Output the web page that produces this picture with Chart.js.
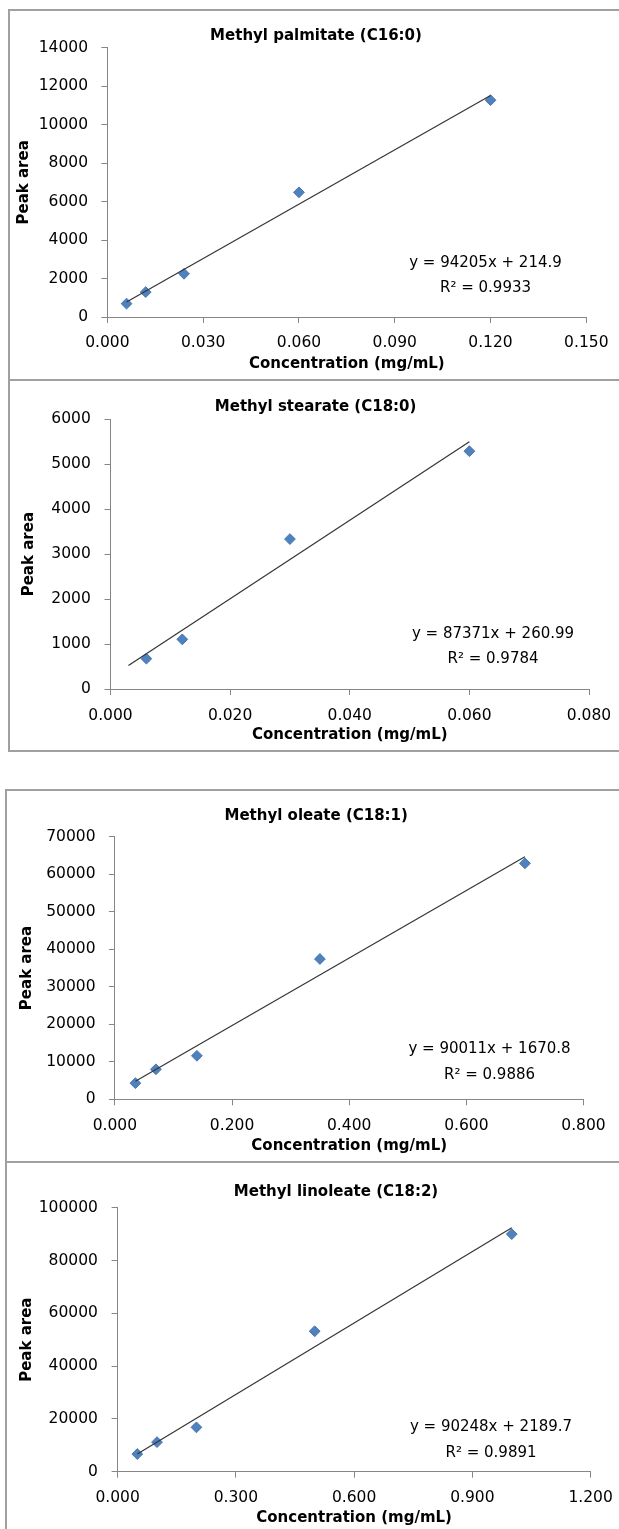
<!DOCTYPE html>
<html>
<head>
<meta charset="utf-8">
<title>FAME calibration curves</title>
<script src="https://cdn.jsdelivr.net/npm/chart.js@4.4.1/dist/chart.umd.min.js"></script>
<style>
  html, body { margin: 0; padding: 0; background: #fff; overflow: hidden; }
  body { width: 619px; height: 1529px; position: relative; }
  .panel { position: absolute; background: #fff; border-top: 2px solid #a0a0a0; border-left: 2px solid #a0a0a0; }
  .panel.closed { border-bottom: 2px solid #a0a0a0; }
  .panel canvas { display: block; }
</style>
</head>
<body>
<script>
// ---- Methyl palmitate (C16:0) ----
const palmitateConc = [0.006, 0.012, 0.024, 0.060, 0.120];
const palmitateArea = [695, 1295, 2245, 6480, 11270];
const palmitateFit = [94205, 214.9];          // slope, intercept
const palmitateR2 = [0.9933];
const palmitateFitSpan = [0.006, 0.120];
const palmitateXTicks = ['0.000', '0.030', '0.060', '0.090', '0.120', '0.150'];
const palmitateYTicks = ['0', '2000', '4000', '6000', '8000', '10000', '12000', '14000'];

// ---- Methyl stearate (C18:0) ----
const stearateConc = [0.006, 0.012, 0.030, 0.060];
const stearateArea = [675, 1105, 3335, 5290];
const stearateFit = [87371, 260.99];
const stearateR2 = [0.9784];
const stearateFitSpan = [0.003, 0.060];
const stearateXTicks = ['0.000', '0.020', '0.040', '0.060', '0.080'];
const stearateYTicks = ['0', '1000', '2000', '3000', '4000', '5000', '6000'];

// ---- Methyl oleate (C18:1) ----
const oleateConc = [0.035, 0.070, 0.140, 0.350, 0.700];
const oleateArea = [4300, 8000, 11600, 37400, 62900];
const oleateFit = [90011, 1670.8];
const oleateR2 = [0.9886];
const oleateFitSpan = [0.035, 0.700];
const oleateXTicks = ['0.000', '0.200', '0.400', '0.600', '0.800'];
const oleateYTicks = ['0', '10000', '20000', '30000', '40000', '50000', '60000', '70000'];

// ---- Methyl linoleate (C18:2) ----
const linoleateConc = [0.05, 0.10, 0.20, 0.50, 1.00];
const linoleateArea = [6700, 11200, 16800, 53200, 90000];
const linoleateFit = [90248, 2189.7];
const linoleateR2 = [0.9891];
const linoleateFitSpan = [0.05, 1.00];
const linoleateXTicks = ['0.000', '0.300', '0.600', '0.900', '1.200'];
const linoleateYTicks = ['0', '20000', '40000', '60000', '80000', '100000'];

const X_TITLE = 'Concentration (mg/mL)';
const Y_TITLE = 'Peak area';

// ---- look ----
const FONT = 'DejaVu Sans';
const TICK_SIZE = 15.5;
const TITLE_SIZE = 15;
const AXIS_TITLE_SIZE = 15;
const EQ_SIZE = 15;
const LINE_H = 1.2;
const TICK_LEN = 6;
const AXIS_GREY = '#868686';
const MARKER_BLUE = '#4f81bd';
const MARKER_EDGE = '#4677b2';
const FIT_LINE = '#353535';

// Page geometry of each panel (pixels on the page).
// plot = [left, top, right, bottom] of the plotting area.
const frames = [
  { left: 8, top: 9, h: 368, closed: false, plot: [107.4, 47.7, 586.3, 317],
    title: [316, 36], yTitleX: 24.6, yTickRight: 88, xTickY: 343, xTitleY: 364.3, eq: [485.5, 263.3, 288.3] },
  { left: 8, top: 379, h: 369, closed: true, plot: [110.5, 419.3, 589, 689],
    title: [315.6, 407.3], yTitleX: 29.6, yTickRight: 90.8, xTickY: 715.7, xTitleY: 735, eq: [493, 634, 659.3] },
  { left: 5, top: 789, h: 370, closed: false, plot: [114.9, 836.7, 583.5, 1099.3],
    title: [316.2, 816], yTitleX: 27.6, yTickRight: 95.5, xTickY: 1126, xTitleY: 1145.7, eq: [489.5, 1049.3, 1075] },
  { left: 5, top: 1161, h: 366, closed: false, plot: [117.6, 1207.7, 590.6, 1471.7],
    title: [336, 1192.3], yTitleX: 27.6, yTickRight: 97.9, xTickY: 1498.3, xTitleY: 1518.3, eq: [491, 1427.3, 1453.3] }
];

const panels = [
  { name: 'Methyl palmitate (C16:0)', conc: palmitateConc, area: palmitateArea, fit: palmitateFit, r2: palmitateR2,
    span: palmitateFitSpan, xTicks: palmitateXTicks, yTicks: palmitateYTicks },
  { name: 'Methyl stearate (C18:0)', conc: stearateConc, area: stearateArea, fit: stearateFit, r2: stearateR2,
    span: stearateFitSpan, xTicks: stearateXTicks, yTicks: stearateYTicks },
  { name: 'Methyl oleate (C18:1)', conc: oleateConc, area: oleateArea, fit: oleateFit, r2: oleateR2,
    span: oleateFitSpan, xTicks: oleateXTicks, yTicks: oleateYTicks },
  { name: 'Methyl linoleate (C18:2)', conc: linoleateConc, area: linoleateArea, fit: linoleateFit, r2: linoleateR2,
    span: linoleateFitSpan, xTicks: linoleateXTicks, yTicks: linoleateYTicks }
];

// Panel heading plus the regression equation and R² inside the plot.
const panelText = {
  id: 'panelText',
  afterDatasetsDraw(chart, args, opts) {
    const ctx = chart.ctx;
    ctx.save();
    ctx.fillStyle = '#000';
    ctx.textAlign = 'center';
    ctx.textBaseline = 'middle';
    ctx.font = 'bold ' + TITLE_SIZE + 'px "' + FONT + '"';
    ctx.fillText(opts.heading, opts.headX, opts.headY);
    ctx.font = EQ_SIZE + 'px "' + FONT + '"';
    opts.lines.forEach((t, i) => ctx.fillText(t, opts.x, opts.y[i]));
    ctx.restore();
  }
};

Chart.defaults.font.family = FONT;
Chart.defaults.color = '#000';

panels.forEach((p, i) => {
  const f = frames[i];
  const ox = f.left + 2, oy = f.top + 2;
  const W = 630 - ox, H = f.h;

  const wrap = document.createElement('div');
  wrap.className = 'panel' + (f.closed ? ' closed' : '');
  wrap.style.left = f.left + 'px';
  wrap.style.top = f.top + 'px';
  wrap.style.width = W + 'px';
  wrap.style.height = H + 'px';
  const cv = document.createElement('canvas');
  cv.width = W;
  cv.height = H;
  cv.style.width = W + 'px';
  cv.style.height = H + 'px';
  wrap.appendChild(cv);
  document.body.appendChild(wrap);

  // plot rectangle and text anchors in canvas pixels
  const pl = f.plot[0] - ox, pt = f.plot[1] - oy, pr = f.plot[2] - ox, pb = f.plot[3] - oy;
  const aLH = AXIS_TITLE_SIZE * LINE_H, kLH = TICK_SIZE * LINE_H;

  const xVals = p.xTicks.map(Number);
  const yVals = p.yTicks.map(Number);
  const points = p.conc.map((c, k) => ({ x: c, y: p.area[k] }));
  const [slope, icpt] = p.fit;
  const trend = p.span.map(c => ({ x: c, y: slope * c + icpt }));

  const grid = { display: true, drawOnChartArea: false, drawTicks: true, tickLength: TICK_LEN, color: AXIS_GREY, lineWidth: 1 };
  const border = { display: true, color: AXIS_GREY, width: 1 };

  new Chart(cv, {
    type: 'scatter',
    data: {
      datasets: [
        { data: trend, showLine: true, borderColor: FIT_LINE, borderWidth: 1.2, pointRadius: 0, fill: false, order: 0 },
        { data: points, pointStyle: 'rectRot', pointRadius: 5.4, backgroundColor: MARKER_BLUE,
          borderColor: MARKER_EDGE, borderWidth: 1, order: 1 }
      ]
    },
    plugins: [panelText],
    options: {
      responsive: false,
      maintainAspectRatio: false,
      animation: false,
      events: [],
      layout: { padding: { left: 0, right: W - pr, top: pt, bottom: 0 } },
      plugins: {
        legend: { display: false },
        tooltip: { enabled: false },
        title: { display: false },
        panelText: {
          heading: p.name,
          headX: f.title[0] - ox,
          headY: f.title[1] - oy,
          lines: ['y = ' + slope + 'x + ' + icpt, 'R\u00B2 = ' + p.r2[0].toFixed(4)],
          x: f.eq[0] - ox,
          y: [f.eq[1] - oy, f.eq[2] - oy]
        }
      },
      scales: {
        x: {
          type: 'linear', position: 'bottom',
          min: xVals[0], max: xVals[xVals.length - 1],
          afterBuildTicks: s => { s.ticks = xVals.map(v => ({ value: v })); },
          afterFit: s => { s.height = H - pb; },
          grid, border,
          ticks: {
            autoSkip: false, maxRotation: 0, minRotation: 0, color: '#000',
            font: { family: FONT, size: TICK_SIZE, lineHeight: LINE_H },
            padding: (f.xTickY - oy) - pb - TICK_LEN - kLH / 2,
            callback: (v, k) => p.xTicks[k]
          },
          title: {
            display: true, text: X_TITLE, color: '#000',
            font: { family: FONT, size: AXIS_TITLE_SIZE, weight: 'bold', lineHeight: LINE_H },
            padding: { top: 0, bottom: H - (f.xTitleY - oy) - aLH / 2 }
          }
        },
        y: {
          type: 'linear', position: 'left',
          min: yVals[0], max: yVals[yVals.length - 1],
          afterBuildTicks: s => { s.ticks = yVals.map(v => ({ value: v })); },
          afterFit: s => { s.width = pl; },
          grid, border,
          ticks: {
            autoSkip: false, color: '#000',
            font: { family: FONT, size: TICK_SIZE, lineHeight: LINE_H },
            padding: pl - (f.yTickRight - ox) - TICK_LEN,
            callback: (v, k) => p.yTicks[k]
          },
          title: {
            display: true, text: Y_TITLE, color: '#000',
            font: { family: FONT, size: AXIS_TITLE_SIZE, weight: 'bold', lineHeight: LINE_H },
            padding: { top: (f.yTitleX - ox) - aLH / 2, bottom: 0 }
          }
        }
      }
    }
  });
});
</script>
</body>
</html>
